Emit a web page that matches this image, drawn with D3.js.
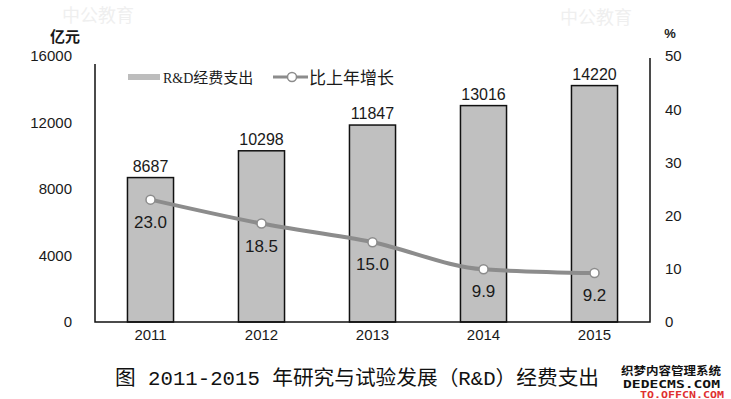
<!DOCTYPE html>
<html>
<head>
<meta charset="utf-8">
<script src="https://cdn.jsdelivr.net/npm/d3@7"></script>
<style>
  body { margin: 0; background: #fff; }
  svg { display: block; }
  .tick text { fill: #1a1a1a; font-family: "Liberation Sans", Arial, sans-serif; }
</style>
</head>
<body>
<div id="chart"></div>
<script>
// data
var years = ['2011', '2012', '2013', '2014', '2015'];
var spending = [8687, 10298, 11847, 13016, 14220];   // 亿元
var growth = [23.0, 18.5, 15.0, 9.9, 9.2];           // %
var leftTicks = [0, 4000, 8000, 12000, 16000];
var rightTicks = [0, 10, 20, 30, 40, 50];

var width = 731, height = 399;
var svg = d3.select('#chart').append('svg')
  .attr('width', width)
  .attr('height', height);

var plotLeft = 95, plotRight = 650, plotBottom = 322, plotTop = 56;

// faint watermarks of the source picture
var wm = svg.append('g').attr('font-family', '"Noto Sans CJK SC", sans-serif')
  .attr('font-size', 18).attr('fill', '#efefef');
wm.append('text').attr('x', 62).attr('y', 22).text('中公教育');
wm.append('text').attr('x', 560).attr('y', 24).text('中公教育');

var x = d3.scaleBand()
  .domain(years)
  .range([plotLeft, plotRight])
  .paddingInner(0.585)
  .paddingOuter(0.2925);

var yL = d3.scaleLinear().domain([0, 16000]).range([plotBottom, plotTop]);
var yR = d3.scaleLinear().domain([0, 50]).range([plotBottom, plotTop]);

// axes
var leftAxis = svg.append('g')
  .attr('transform', 'translate(' + plotLeft + ',0)')
  .call(d3.axisLeft(yL).tickValues(leftTicks).tickFormat(d3.format('d')).tickSize(0).tickPadding(23));
leftAxis.select('.domain').remove();
leftAxis.selectAll('text').attr('font-size', 15);

var rightAxis = svg.append('g')
  .attr('transform', 'translate(' + plotRight + ',0)')
  .call(d3.axisRight(yR).tickValues(rightTicks).tickSize(0).tickPadding(15));
rightAxis.select('.domain').remove();
rightAxis.selectAll('text').attr('font-size', 15);

var bottomAxis = svg.append('g')
  .attr('transform', 'translate(0,' + plotBottom + ')')
  .call(d3.axisBottom(x).tickSize(0).tickPadding(7));
bottomAxis.select('.domain').remove();
bottomAxis.selectAll('text').attr('font-size', 15);

// axis units
svg.append('text').attr('x', 65).attr('y', 42).attr('text-anchor', 'middle')
  .attr('font-family', '"Noto Sans CJK SC", sans-serif').attr('font-size', 15).attr('font-weight', 'bold')
  .attr('fill', '#1a1a1a').text('亿元');
svg.append('text').attr('x', 670).attr('y', 38).attr('text-anchor', 'middle')
  .attr('font-family', '"Liberation Sans", sans-serif').attr('font-size', 13).attr('font-weight', 'bold')
  .attr('fill', '#1a1a1a').text('%');

// bars
svg.selectAll('.bar')
  .data(spending)
  .enter()
  .append('rect')
  .attr('class', 'bar')
  .attr('x', function(d, i) { return x(years[i]); })
  .attr('y', function(d) { return yL(d); })
  .attr('width', x.bandwidth())
  .attr('height', function(d) { return plotBottom - yL(d); })
  .attr('fill', '#c0c0c0')
  .attr('stroke', '#111')
  .attr('stroke-width', 1.5);

svg.selectAll('.barLabel')
  .data(spending)
  .enter()
  .append('text')
  .attr('class', 'barLabel')
  .attr('x', function(d, i) { return x(years[i]) + x.bandwidth() / 2; })
  .attr('y', function(d) { return yL(d) - 6; })
  .attr('text-anchor', 'middle')
  .attr('font-family', '"Liberation Sans", Arial, sans-serif')
  .attr('font-size', 16)
  .attr('fill', '#1a1a1a')
  .text(function(d) { return d; });

// axis lines
svg.append('path')
  .attr('d', 'M' + plotLeft + ',' + (plotTop + 8) + 'V' + plotBottom + 'H' + plotRight + 'V' + (plotTop + 2))
  .attr('fill', 'none')
  .attr('stroke', '#111')
  .attr('stroke-width', 1.5);

// growth line
var line = d3.line()
  .x(function(d, i) { return x(years[i]) + x.bandwidth() / 2; })
  .y(function(d) { return yR(d); })
  .curve(d3.curveMonotoneX);

svg.append('path')
  .datum(growth)
  .attr('d', line)
  .attr('fill', 'none')
  .attr('stroke', '#8c8c8c')
  .attr('stroke-width', 4)
  .attr('stroke-linejoin', 'round');

svg.selectAll('.dot')
  .data(growth)
  .enter()
  .append('circle')
  .attr('class', 'dot')
  .attr('cx', function(d, i) { return x(years[i]) + x.bandwidth() / 2; })
  .attr('cy', function(d) { return yR(d); })
  .attr('r', 4.5)
  .attr('fill', '#fff')
  .attr('stroke', '#8c8c8c')
  .attr('stroke-width', 1.5);

svg.selectAll('.dotLabel')
  .data(growth)
  .enter()
  .append('text')
  .attr('class', 'dotLabel')
  .attr('x', function(d, i) { return x(years[i]) + x.bandwidth() / 2; })
  .attr('y', function(d) { return yR(d) + 28; })
  .attr('text-anchor', 'middle')
  .attr('font-family', '"Liberation Sans", Arial, sans-serif')
  .attr('font-size', 17)
  .attr('fill', '#1a1a1a')
  .text(function(d) { return d.toFixed(1); });

// legend
var legend = svg.append('g');
legend.append('rect').attr('x', 128).attr('y', 74).attr('width', 32).attr('height', 6).attr('fill', '#bdbdbd');
legend.append('text').attr('x', 163).attr('y', 83)
  .attr('font-family', '"Noto Sans CJK SC", sans-serif').attr('font-size', 15).attr('fill', '#1a1a1a')
  .html('<tspan font-family="Liberation Serif, serif" font-size="14">R&amp;D</tspan>经费支出');
legend.append('line').attr('x1', 273).attr('x2', 308).attr('y1', 77).attr('y2', 77)
  .attr('stroke', '#8c8c8c').attr('stroke-width', 3);
legend.append('circle').attr('cx', 292).attr('cy', 77).attr('r', 4.5)
  .attr('fill', '#fff').attr('stroke', '#8c8c8c').attr('stroke-width', 1.5);
legend.append('text').attr('x', 309).attr('y', 84)
  .attr('font-family', '"Noto Sans CJK SC", sans-serif').attr('font-size', 17).attr('fill', '#1a1a1a')
  .text('比上年增长');

// caption
svg.append('text')
  .attr('x', 115).attr('y', 385)
  .attr('textLength', 484).attr('lengthAdjust', 'spacingAndGlyphs')
  .attr('font-family', '"Liberation Mono", "Noto Sans CJK SC", monospace')
  .attr('font-size', 20)
  .attr('fill', '#111')
  .text('图 2011-2015 年研究与试验发展（R&D）经费支出');

// site stamp bottom right
var stamp = svg.append('g');
stamp.append('text').attr('x', 621).attr('y', 375).attr('textLength', 100).attr('lengthAdjust', 'spacingAndGlyphs')
  .attr('font-family', '"Noto Sans CJK SC", sans-serif').attr('font-size', 11).attr('font-weight', 'bold')
  .attr('fill', '#111').text('织梦内容管理系统');
stamp.append('text').attr('x', 623).attr('y', 388).attr('textLength', 97).attr('lengthAdjust', 'spacingAndGlyphs')
  .attr('font-family', '"DejaVu Sans Mono", monospace').attr('font-size', 11).attr('font-weight', 'bold')
  .attr('fill', '#111').text('DEDECMS.COM');
stamp.append('text').attr('x', 640).attr('y', 398).attr('textLength', 84).attr('lengthAdjust', 'spacingAndGlyphs')
  .attr('font-family', '"DejaVu Sans Mono", monospace').attr('font-size', 8).attr('font-weight', 'bold')
  .attr('fill', '#e03030').text('TO.OFFCN.COM');
</script>
</body>
</html>
